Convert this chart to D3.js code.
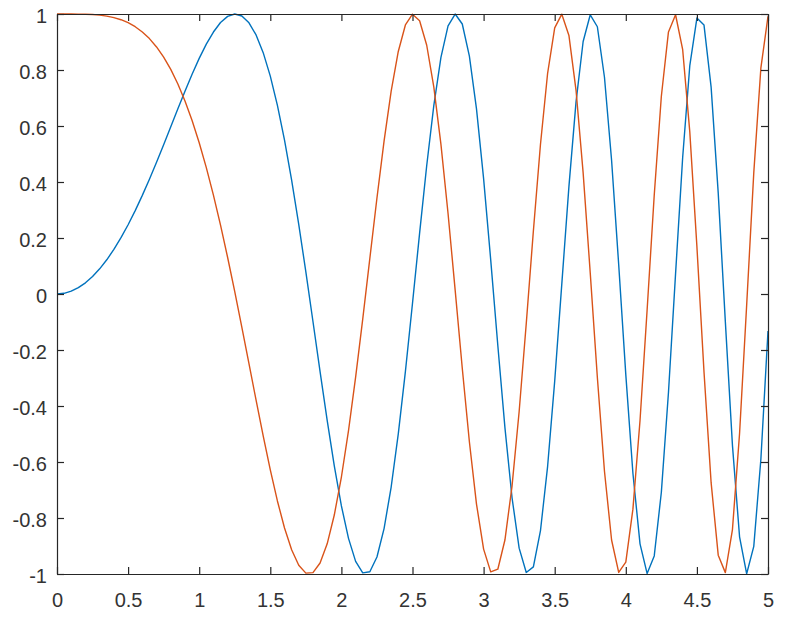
<!DOCTYPE html>
<html><head><meta charset="utf-8">
<script src="https://cdn.jsdelivr.net/npm/d3@7"></script>
<style>body{margin:0;background:#fff}svg{display:block}</style>
</head><body>
<script>
const xValues = [0,0.05,0.1,0.15,0.2,0.25,0.3,0.35,0.4,0.45,0.5,0.55,0.6,0.65,0.7,0.75,0.8,0.85,0.9,0.95,
1,1.05,1.1,1.15,1.2,1.25,1.3,1.35,1.4,1.45,1.5,1.55,1.6,1.65,1.7,1.75,1.8,1.85,1.9,1.95,
2,2.05,2.1,2.15,2.2,2.25,2.3,2.35,2.4,2.45,2.5,2.55,2.6,2.65,2.7,2.75,2.8,2.85,2.9,2.95,
3,3.05,3.1,3.15,3.2,3.25,3.3,3.35,3.4,3.45,3.5,3.55,3.6,3.65,3.7,3.75,3.8,3.85,3.9,3.95,
4,4.05,4.1,4.15,4.2,4.25,4.3,4.35,4.4,4.45,4.5,4.55,4.6,4.65,4.7,4.75,4.8,4.85,4.9,4.95,5];
const blueSeries = [0,0.0025,0.0100,0.0225,0.0400,0.0625,0.0899,0.1222,0.1593,0.2011,
0.2474,0.2979,0.3523,0.4100,0.4706,0.5333,0.5972,0.6613,0.7243,0.7847,
0.8415,0.8924,0.9356,0.9696,0.9915,1.0000,0.9929,0.9685,0.9252,0.8620,
0.7781,0.6735,0.5492,0.4071,0.2489,0.0790,-0.0982,-0.2772,-0.4515,-0.6139,
-0.7568,-0.8727,-0.9548,-0.9960,-0.9919,-0.9393,-0.8377,-0.6894,-0.4996,-0.2770,
-0.0332,0.2175,0.4590,0.6739,0.8452,0.9578,0.9999,0.9642,0.8495,0.6612,
0.4121,0.1220,-0.1841,-0.4774,-0.7277,-0.9077,-0.9944,-0.9744,-0.8450,-0.6163,
-0.3111,0.0361,0.3836,0.6861,0.9018,0.9972,0.9545,0.7742,0.4776,0.1053,
-0.2879,-0.6400,-0.8922,-0.9984,-0.9355,-0.7081,-0.3519,0.0728,0.4886,0.8153,
0.9856,0.9605,0.7388,0.3604,-0.0986,-0.5407,-0.8671,-0.9992,-0.9013,-0.5894,-0.1324];
const orangeSeries = [1,1.0000,1.0000,0.9997,0.9992,0.9980,0.9960,0.9925,0.9872,0.9796,
0.9689,0.9546,0.9359,0.9121,0.8823,0.8459,0.8021,0.7502,0.6895,0.6199,
0.5403,0.4513,0.3530,0.2457,0.1304,0.0083,-0.1189,-0.2490,-0.3794,-0.5069,
-0.6281,-0.7391,-0.8357,-0.9134,-0.9685,-0.9969,-0.9952,-0.9608,-0.8923,-0.7894,
-0.6536,-0.4882,-0.2972,-0.0898,0.1273,0.3430,0.5461,0.7244,0.8662,0.9609,
0.9994,0.9761,0.8884,0.7389,0.5346,0.2874,0.0140,-0.2653,-0.5278,-0.7502,
-0.9111,-0.9925,-0.9829,-0.8787,-0.6859,-0.4197,-0.1054,0.2250,0.5349,0.7875,
0.9504,0.9993,0.9235,0.7275,0.4324,0.0746,-0.2982,-0.6329,-0.8786,-0.9944,
-0.9577,-0.7684,-0.4518,-0.0563,0.3534,0.7061,0.9360,0.9973,0.8725,0.5790,
0.1694,-0.2784,-0.6739,-0.9328,-0.9951,-0.8412,-0.4982,-0.0395,0.4331,0.8078,0.9912];
const xTicks = [0,0.5,1,1.5,2,2.5,3,3.5,4,4.5,5];
const xTickLabels = ["0","0.5","1","1.5","2","2.5","3","3.5","4","4.5","5"];
const yTicks = [-1,-0.8,-0.6,-0.4,-0.2,0,0.2,0.4,0.6,0.8,1];
const yTickLabels = ["-1","-0.8","-0.6","-0.4","-0.2","0","0.2","0.4","0.6","0.8","1"];

const W=790,H=619, L=57,R=768,T=14,B=574;
const svg=d3.select("body").append("svg").attr("width",W).attr("height",H);
const x=d3.scaleLinear().domain([0,5]).range([L,R]);
const y=d3.scaleLinear().domain([-1,1]).range([B,T]);
const axisColor="#262626", textColor="#333333", tl=7;
const font="Liberation Sans, Arial, Helvetica, sans-serif";

const line=d3.line().x((d,i)=>x(xValues[i])).y(d=>y(d));
const g=svg.append("g");
g.append("path").datum(blueSeries).attr("d",line).attr("fill","none").attr("stroke","#0072BD").attr("stroke-width",1.4).attr("stroke-linejoin","round");
g.append("path").datum(orangeSeries).attr("d",line).attr("fill","none").attr("stroke","#D95319").attr("stroke-width",1.4).attr("stroke-linejoin","round");

// axes
const bx=d3.axisBottom(x).tickValues(xTicks).tickFormat((d,i)=>xTickLabels[i]).tickSizeInner(-tl).tickSizeOuter(0).tickPadding(19);
const tx=d3.axisTop(x).tickValues(xTicks).tickFormat("").tickSizeInner(-tl).tickSizeOuter(0);
const ly=d3.axisLeft(y).tickValues(yTicks).tickFormat((d,i)=>yTickLabels[i]).tickSizeInner(-tl).tickSizeOuter(0).tickPadding(10);
const ry=d3.axisRight(y).tickValues(yTicks).tickFormat("").tickSizeInner(-tl).tickSizeOuter(0);
function style(sel){
  sel.selectAll("path.domain").attr("stroke",axisColor).attr("stroke-width",1.2);
  sel.selectAll(".tick line").attr("stroke",axisColor).attr("stroke-width",1.2);
  sel.selectAll("text").attr("fill",textColor).style("font-family",font).style("font-size","20px");
}
svg.append("g").attr("transform",`translate(0,${B})`).call(bx).call(style);
svg.append("g").attr("transform",`translate(0,${T})`).call(tx).call(style);
svg.append("g").attr("transform",`translate(${L},0)`).call(ly).call(style).selectAll("text").attr("dy","0.42em");
svg.append("g").attr("transform",`translate(${R},0)`).call(ry).call(style);
</script>
</body></html>
